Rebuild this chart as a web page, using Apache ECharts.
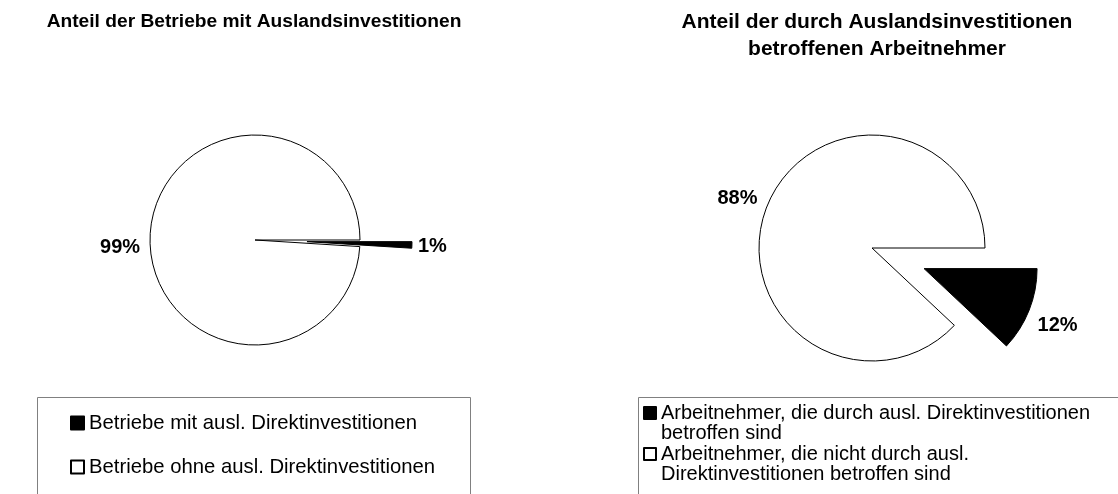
<!DOCTYPE html>
<html>
<head>
<meta charset="utf-8">
<script src="https://cdn.jsdelivr.net/npm/echarts@6/dist/echarts.min.js"></script>
<style>
html,body{margin:0;padding:0;background:#fff;}
#chart{width:1118px;height:494px;}
</style>
</head>
<body>
<div id="chart"></div>
<script>
// Data
const titleLeft = 'Anteil der Betriebe mit Auslandsinvestitionen';
const titleRight = 'Anteil der durch Auslandsinvestitionen\nbetroffenen Arbeitnehmer';
const categoriesLeft = ['Betriebe mit ausl. Direktinvestitionen', 'Betriebe ohne ausl. Direktinvestitionen'];
const valuesLeft = [1, 99];
const categoriesRight = ['Arbeitnehmer, die durch ausl. Direktinvestitionen betroffen sind', 'Arbeitnehmer, die nicht durch ausl. Direktinvestitionen betroffen sind'];
const valuesRight = [12, 88];
const sliceColors = ['#000000', '#ffffff'];

const FONT = '"Liberation Sans", Arial, sans-serif';

function buildData(cats, vals, labelOffsets) {
  return cats.map((c, i) => ({
    name: c,
    value: vals[i],
    selected: i === 0,
    itemStyle: { color: sliceColors[i], borderColor: '#000', borderWidth: 1 },
    label: { offset: labelOffsets[i] },
    select: { label: { offset: labelOffsets[i] }, itemStyle: { color: sliceColors[i], borderColor: '#000', borderWidth: 1 } }
  }));
}

function pieSeries(cats, vals, center, radius, offset, labelOffsets) {
  return {
    type: 'pie',
    center: center,
    radius: radius,
    startAngle: 0,
    clockwise: true,
    selectedMode: 'single',
    selectedOffset: offset,
    avoidLabelOverlap: false,
    animation: false,
    emphasis: { disabled: true },
    label: {
      show: true,
      position: 'outside',
      formatter: '{c}%',
      fontFamily: FONT,
      fontWeight: 'bold',
      fontSize: 20,
      color: '#000'
    },
    labelLine: { show: false, length: 8, length2: 0 },
    data: buildData(cats, vals, labelOffsets)
  };
}

const chart = echarts.init(document.getElementById('chart'), null, { renderer: 'canvas' });
chart.setOption({
  animation: false,
  backgroundColor: '#fff',
  title: [
    { text: titleLeft, left: 249, top: 7, textAlign: 'center',
      textStyle: { fontFamily: FONT, fontWeight: 'bold', fontSize: 19.2, color: '#000' } },
    { text: titleRight, left: 872, top: 4, textAlign: 'center',
      textStyle: { fontFamily: FONT, fontWeight: 'bold', fontSize: 21, color: '#000', lineHeight: 27 } }
  ],
  graphic: [
    { type: 'rect', silent: true, shape: { x: 37.5, y: 397.5, width: 433, height: 120 },
      style: { fill: 'none', stroke: '#808080', lineWidth: 1 } },
    { type: 'rect', silent: true, shape: { x: 638.5, y: 397.5, width: 520, height: 120 },
      style: { fill: 'none', stroke: '#808080', lineWidth: 1 } }
  ],
  legend: [
    {
      data: categoriesLeft,
      orient: 'vertical',
      left: 70, top: 413,
      height: 300,
      icon: 'rect',
      itemWidth: 13, itemHeight: 13,
      itemGap: 24,
      selectedMode: false,
      padding: 0,
      textStyle: { fontFamily: FONT, fontSize: 20.3, color: '#000', lineHeight: 20 }
    },
    {
      data: categoriesRight,
      orient: 'vertical',
      left: 643, top: 383,
      height: 300,
      icon: 'rect',
      itemWidth: 12, itemHeight: 12,
      itemGap: -19,
      selectedMode: false,
      padding: 0,
      formatter: function (name) { return '\n' + name; },
      textStyle: { fontFamily: FONT, fontSize: 20, color: '#000', lineHeight: 20, width: 455, overflow: 'break' }
    }
  ],
  series: [
    pieSeries(categoriesLeft, valuesLeft, [255, 240], 105, 52, [[-7, 1], [3, 11]]),
    pieSeries(categoriesRight, valuesRight, [872, 248], 113, 56, [[-4, 12], [3, -5]])
  ]
});
</script>
</body>
</html>
